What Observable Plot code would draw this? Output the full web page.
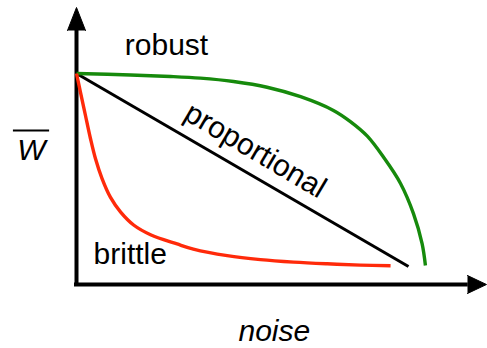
<!DOCTYPE html>
<html>
<head>
<meta charset="utf-8">
<script src="https://cdn.jsdelivr.net/npm/d3@7"></script>
<script src="https://cdn.jsdelivr.net/npm/@observablehq/plot@0.6"></script>
<style>
  html, body { margin: 0; padding: 0; background: #fff; }
  #chart svg { display: block; }
</style>
</head>
<body>
<div id="chart"></div>
<script>
// Series (noise on x, mean fitness W̄ on y; 1 = start level)
const robustNoise = [0, 0.163, 0.283, 0.373, 0.473, 0.574, 0.675, 0.774, 0.825, 0.876, 0.925, 0.976, 1.015, 1.041, 1.051];
const robustW     = [1, 0.993, 0.986, 0.978, 0.962, 0.935, 0.890, 0.825, 0.772, 0.703, 0.603, 0.479, 0.336, 0.194, 0.090];

const proportionalNoise = [0, 1.0];
const proportionalW     = [1, 0.085];

const brittleNoise = [0, 0.012, 0.027, 0.042, 0.057, 0.077, 0.102, 0.133, 0.172, 0.223, 0.303, 0.352, 0.454, 0.554, 0.654, 0.755, 0.855, 0.946];
const brittleW     = [1, 0.911, 0.801, 0.692, 0.597, 0.502, 0.414, 0.343, 0.282, 0.236, 0.192, 0.168, 0.137, 0.118, 0.106, 0.098, 0.092, 0.089];

const seriesNames = ["robust", "proportional", "brittle"];
const xLabel = "noise";
const yLabel = "W";

const toRows = (xs, ys) => xs.map((x, i) => ({x, y: ys[i]}));
const robust = toRows(robustNoise, robustW);
const proportional = toRows(proportionalNoise, proportionalW);
const brittle = toRows(brittleNoise, brittleW);

const font = "'Liberation Sans', Arial, Helvetica, sans-serif";

const chart = Plot.plot({
  width: 487,
  height: 348,
  marginLeft: 76,
  marginRight: 0,
  marginTop: 5,
  marginBottom: 64,
  style: {fontFamily: font, background: "#fff", overflow: "visible"},
  x: {domain: [0, 1.238], axis: null},
  y: {domain: [0, 1.3223], axis: null},
  marks: [
    // axes
    Plot.ruleX([0], {y1: -0.01, y2: 1.21, stroke: "black", strokeWidth: 4}),
    Plot.ruleY([0], {x1: -0.006, x2: 1.18, stroke: "black", strokeWidth: 4}),
    Plot.vector([{x: 0, y: 1.2038}], {x: "x", y: "y", shape: "spike", anchor: "start", length: 23, r: 9, rotate: 0, fill: "black", stroke: "black", strokeWidth: 1}),
    Plot.vector([{x: 1.1777, y: 0}], {x: "x", y: "y", shape: "spike", anchor: "start", length: 19, r: 9, rotate: 90, fill: "black", stroke: "black", strokeWidth: 1}),
    // curves
    Plot.line(proportional, {x: "x", y: "y", stroke: "black", strokeWidth: 3, strokeLinecap: "butt"}),
    Plot.line(robust, {x: "x", y: "y", stroke: "#168a0c", strokeWidth: 3.4, curve: "catmull-rom", strokeLinecap: "butt"}),
    Plot.line(brittle, {x: "x", y: "y", stroke: "#ff2a0a", strokeWidth: 3.4, curve: "catmull-rom", strokeLinecap: "butt"}),
    // labels
    Plot.text([seriesNames[0]], {x: 0.271, y: 1.088, text: d => d, fontSize: 30, lineAnchor: "bottom", textAnchor: "middle", fill: "black"}),
    Plot.text([seriesNames[1]], {x: 0.539, y: 0.635, text: d => d, fontSize: 30, lineAnchor: "middle", textAnchor: "middle", rotate: 30.5, fill: "black"}),
    Plot.text([seriesNames[2]], {x: 0.162, y: 0.095, text: d => d, fontSize: 30, lineAnchor: "bottom", textAnchor: "middle", fill: "black"}),
    Plot.text([xLabel], {x: 0.596, y: -0.269, text: d => d, fontSize: 30, fontStyle: "italic", lineAnchor: "bottom", textAnchor: "middle", fill: "black"}),
    Plot.text([yLabel], {x: -0.1355, y: 0.592, text: d => d, fontSize: 30, fontStyle: "italic", lineAnchor: "bottom", textAnchor: "middle", fill: "black"}),
    Plot.ruleY([0.730], {x1: -0.19, x2: -0.081, stroke: "black", strokeWidth: 2})
  ]
});
document.getElementById("chart").appendChild(chart);
</script>
</body>
</html>
